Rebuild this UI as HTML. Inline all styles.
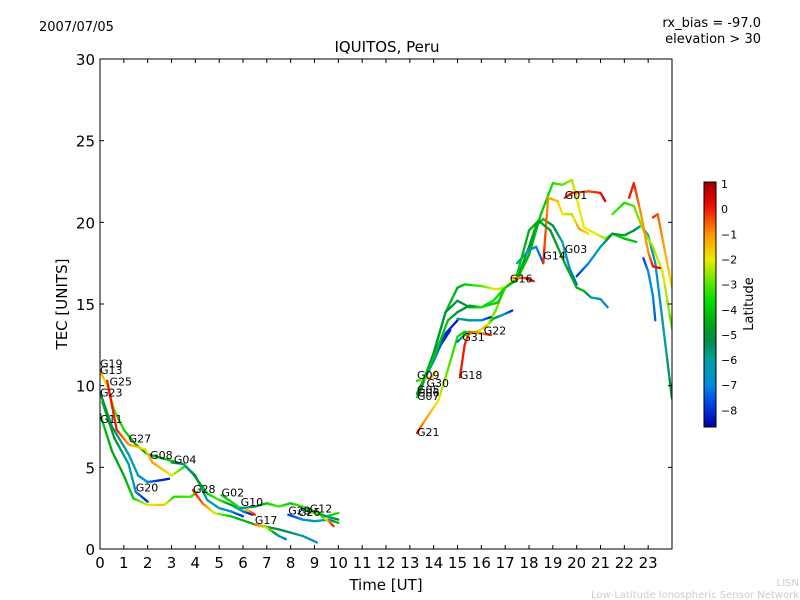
<!DOCTYPE html>
<html><head><meta charset="utf-8"><style>
body{margin:0;background:#fff;}
svg{display:block;font-family:"DejaVu Sans","Liberation Sans",sans-serif;}
</style></head><body>
<svg id="chart" width="800" height="600" viewBox="0 0 800 600">
<rect width="800" height="600" fill="#fff"/>
<text x="39" y="31" font-size="13">2007/07/05</text>
<text x="761" y="27" font-size="13" text-anchor="end">rx_bias = -97.0</text>
<text x="761" y="43" font-size="13" text-anchor="end">elevation &gt; 30</text>
<text x="387" y="52" font-size="15" text-anchor="middle">IQUITOS, Peru</text>
<text x="386" y="590" font-size="15" text-anchor="middle">Time [UT]</text>
<text x="67" y="304" font-size="15" text-anchor="middle" transform="rotate(-90 67 304)">TEC [UNITS]</text>
<text x="753" y="304" font-size="13" text-anchor="middle" transform="rotate(-90 753 304)">Latitude</text>
<text x="799" y="586" font-size="10" fill="#ccc" text-anchor="end">LISN</text>
<text x="799" y="598" font-size="10" fill="#ccc" text-anchor="end">Low-Latitude Ionospheric Sensor Network</text>
<defs><clipPath id="pc"><rect x="100" y="59" width="572" height="490"/></clipPath>
<linearGradient id="jet" x1="0" y1="1" x2="0" y2="0"></linearGradient></defs>
<g id="marks" clip-path="url(#pc)"></g>
<g id="labels"></g>
<rect x="100" y="59" width="572" height="490" fill="none" stroke="#000" stroke-width="1"/>
<g id="axes"></g>
<rect x="704" y="182" width="12" height="245" fill="url(#jet)" stroke="#000" stroke-width="1"/>
<g id="cbticks"></g>
</svg>
<script>
const xTicks=[0,1,2,3,4,5,6,7,8,9,10,11,12,13,14,15,16,17,18,19,20,21,22,23];
const yTicks=[0,5,10,15,20,25,30];
const cbTicks=[1,0,-1,-2,-3,-4,-5,-6,-7,-8];
const latMin=-8.66, latMax=1.08;
// each track: times, tec values, latitudes
const tracks=[
 {t:[0,0.3,0.6,1,1.5,2,2.5,3,3.5,4,4.5,5,5.5,6],v:[10.9,10,8.5,7.3,6.4,5.8,5.6,5.4,5.2,4.5,3.0,2.5,2.3,2.0],l:[-1,-2,-3,-3.5,-4.5,-5,-4.5,-4,-5.5,-5,-6,-6.5,-7,-8]},
 {t:[0.3,0.7,1.2,1.9,2.2,3.0,3.6],v:[10.3,7.3,6.4,6.1,5.3,4.5,5.1],l:[0,0,-1,-2,-1,-2,-3.5]},
 {t:[0,0.5,1,1.4,2,2.7,3.1,3.8,4.1],v:[8.3,6,4.5,3.1,2.7,2.7,3.2,3.2,3.5],l:[-4,-4.5,-4.5,-4,-2,-1.5,-3.5,-3,-3.5]},
 {t:[0,0.5,1.2,1.6,2.0,2.5,2.9],v:[9.6,7.5,5.8,4.5,4.1,4.2,4.3],l:[-5,-5.5,-6,-6.5,-7,-8,-8.3]},
 {t:[0.1,0.6,1.2,1.5,2.0],v:[9.0,6.8,5.2,3.5,2.9],l:[-4.5,-5,-6,-7,-8.3]},
 {t:[3.0,3.5,3.9,4.5,5,5.5,6,6.4],v:[5.3,5.2,4.6,3.4,3,2.7,2.3,2.1],l:[-4.5,-6,-5.5,-4,-3,-5,-7,-8.3]},
 {t:[3.9,4.3,4.8,5.5,6.5,7.5,8.5,9.1],v:[3.6,2.8,2.2,2.0,1.5,1.2,0.8,0.4],l:[0,-0.5,-2,-4,-4.5,-5,-6,-7]},
 {t:[6.5,7,7.5,7.8],v:[1.5,1.3,0.8,0.6],l:[-0.5,-2,-6,-7.5]},
 {t:[5.1,5.8,6.3,6.5],v:[3.3,2.6,2.3,2.1],l:[-4,-3.5,-1,0]},
 {t:[5.9,6.5,7,7.5,8,8.5,9,9.5,10],v:[2.5,2.6,2.8,2.6,2.8,2.6,2.3,2.0,2.2],l:[-6,-5.5,-4,-3,-4,-3,-4,-4,-3.5]},
 {t:[7.9,8.5,9,9.6,10],v:[2.1,1.8,1.7,1.8,1.6],l:[-8,-7,-6.5,-6,-4]},
 {t:[8.5,9,9.5,10],v:[2.4,2.2,2.0,1.8],l:[-8,-2,-6,-5]},
 {t:[9.3,9.6,9.8],v:[2.0,1.7,1.4],l:[-4,-1,0]},
 {t:[13.3,13.6,14.2,14.6,15.0,15.3,15.8,16.3,16.6,17.0,17.3,17.6],v:[7.1,7.8,9.1,11,13.0,13.3,13.2,13.8,14.6,16.0,16.4,16.8],l:[0,-1,-2,-3,-3.5,-4,-2.5,-2,-3,-2,-1.5,-3]},
 {t:[13.3,14,14.5,15,15.3,16,16.6,17,17.5,18,18.5,19,19.4,19.8,20.0,20.3,20.8,21.2,21.5,22,22.5],v:[9.3,12,14.5,16,16.2,16.1,15.9,16.0,16.5,18,20.5,22.4,22.3,22.6,21.5,19.7,19.3,19.0,19.3,19.0,18.8],l:[-3.5,-3.5,-4,-4.5,-4,-3,-2,-2.5,-3.5,-4.5,-4,-3.5,-3,-2.5,-2,-2,-2,-2.5,-3.5,-4,-4]},
 {t:[13.4,14,14.5,15,15.5,16,16.5,17,17.5,18,18.3,18.6,19,19.4,19.7,20.0],v:[9.5,12,14.5,15.2,14.8,14.8,15.2,16.0,16.5,18.5,19.8,20.2,19.8,18.8,17.2,16.2],l:[-5,-5,-5,-5.5,-4.5,-4,-3.5,-4,-4.5,-5,-4.5,-4,-5,-6,-7,-7.5]},
 {t:[17.5,18,18.3,18.6],v:[17.5,18.3,18.5,17.5],l:[-6,-6.5,-7,-7.5]},
 {t:[19.5,19.8,20.5,21,21.2],v:[21.5,21.8,21.9,21.8,21.3],l:[0,0,-0.5,0,0.5]},
 {t:[18.6,18.8,19.2,19.4,19.8,20.1,20.5],v:[17.5,21.5,21.3,20.5,20.5,19.6,19.3],l:[0,-1,-1.5,-2,-2.5,-1,-2]},
 {t:[17.5,18,18.4,18.9,19.5,20,20.3,20.6,21,21.3],v:[16.8,19.5,20.1,19.5,17.5,16.0,15.8,15.4,15.3,14.8],l:[-4,-4.5,-4.5,-5,-4.5,-4.5,-4,-6,-6.5,-7]},
 {t:[20.0,20.5,21,21.5,22,22.4,22.7,23.0,23.3,23.6,24],v:[16.7,17.5,18.5,19.3,19.2,19.5,19.8,19.2,17.5,14.0,9.2],l:[-8,-7,-6,-5,-4.5,-5,-6,-6,-6.5,-6.5,-5]},
 {t:[21.5,22,22.4,22.8,23.2,23.6,24],v:[20.5,21.2,21.0,19.5,18.5,17,13.5],l:[-3,-3.5,-3,-2.5,-2.5,-2,-3]},
 {t:[22.2,22.4,22.7,23.0,23.2,23.5],v:[21.5,22.4,20.5,18.2,17.3,17.2],l:[0,0,-1,-1,0,0.2]},
 {t:[23.2,23.4,23.6,24],v:[20.3,20.5,19,16],l:[0,-0.5,-1,-2]},
 {t:[22.8,23.0,23.2,23.3],v:[17.8,17,15.5,14],l:[-8,-7,-7,-7.5]},
 {t:[13.3,13.8,14.3,14.7],v:[9.5,11,12.5,13.4],l:[-7,-7.5,-8,-8.2]},
 {t:[13.4,14,14.5,15],v:[9.8,11.5,13.2,14.0],l:[-6.5,-7,-8,-8.3]},
 {t:[13.3,13.6,13.9,14.1],v:[10.3,10.4,10.5,10.9],l:[-4,-2,-1,-1.5]},
 {t:[15.0,15.3,15.8,16.2,16.5,17,17.3],v:[12.7,13.1,13.3,13.6,14.1,14.4,14.6],l:[-8,-4,-3,-1,-4,-7,-8]},
 {t:[15.1,15.3,15.5,16,16.4],v:[10.5,12.5,13.3,13.2,13.1],l:[0,0,-0.5,-1,0]},
 {t:[13.3,14,14.6,15,15.5,16,16.7,17],v:[9.5,11.7,14,14.5,14.9,14.8,15.1,16],l:[-4.5,-4,-4,-5,-5,-3.5,-4,-3.5]},
 {t:[15.0,15.5,16,16.4],v:[14.1,14.0,14.0,14.2],l:[-6,-5.5,-7,-8]},
 {t:[17.3,17.8,18.0,18.2],v:[16.6,16.6,16.5,16.4],l:[-1,-0.5,0.3,0]}
];
const satNames=["G19","G13","G25","G23","G11","G27","G08","G04","G20","G28","G02","G10","G17","G29","G26","G12","G09","G30","G05","G06","G07","G21","G18","G31","G22","G16","G14","G03","G01"];
const satT=[0,0,0.4,0,0,1.2,2.1,3.1,1.5,3.9,5.1,5.9,6.5,7.9,8.3,8.8,13.3,13.7,13.3,13.3,13.3,13.3,15.1,15.2,16.1,17.2,18.6,19.5,19.5];
const satV=[11.0,10.6,9.9,9.2,7.6,6.4,5.4,5.1,3.4,3.3,3.1,2.5,1.4,2.0,1.9,2.1,10.3,9.8,9.4,9.2,9.0,6.8,10.3,12.6,13.0,16.2,17.6,18.0,21.3];

const NS="http://www.w3.org/2000/svg";
const X=t=>100+t*572/24, Y=v=>549-v*490/30;
const CB=l=>427-(l-latMin)/(latMax-latMin)*245;
const cmap=[[1.08,[150,0,0]],[0.5,[215,0,0]],[0,[240,25,0]],[-1,[255,150,0]],[-2,[235,235,0]],[-3,[80,230,0]],[-3.7,[0,220,0]],[-4.5,[0,170,20]],[-5.2,[0,140,70]],[-6,[0,160,160]],[-7,[0,140,220]],[-7.8,[0,60,230]],[-8.66,[0,0,160]]];
function jet(l){l=Math.max(latMin,Math.min(latMax,l));
 for(let i=0;i<cmap.length-1;i++){const [a,ca]=cmap[i],[b,cb]=cmap[i+1];
  if(l<=a&&l>=b){const f=(a-l)/(a-b);const c=ca.map((v,k)=>Math.round(v+(cb[k]-v)*f));return `rgb(${c})`;}}
 return 'rgb(0,0,160)';}
const grad=document.getElementById('jet');
cmap.slice().reverse().forEach(([l,c])=>{const s=document.createElementNS(NS,'stop');
 s.setAttribute('offset',(l-latMin)/(latMax-latMin));s.setAttribute('stop-color',`rgb(${c})`);grad.appendChild(s);});
const marks=document.getElementById('marks');
tracks.forEach((tr,k)=>{
 const g=document.createElementNS(NS,'g');
 
 
 for(let i=0;i<tr.t.length-1;i++){
  const n=4;
  for(let j=0;j<n;j++){
   const a=j/n,b=(j+1)/n;
   const ln=document.createElementNS(NS,'line');
   
   
   ln.setAttribute('x1',X(tr.t[i]+(tr.t[i+1]-tr.t[i])*a));
   ln.setAttribute('y1',Y(tr.v[i]+(tr.v[i+1]-tr.v[i])*a));
   ln.setAttribute('x2',X(tr.t[i]+(tr.t[i+1]-tr.t[i])*b));
   ln.setAttribute('y2',Y(tr.v[i]+(tr.v[i+1]-tr.v[i])*b));
   ln.setAttribute('stroke',jet(tr.l[i]+(tr.l[i+1]-tr.l[i])*(a+b)/2));
   ln.setAttribute('stroke-width','2.3');
   ln.setAttribute('stroke-linecap','round');
   g.appendChild(ln);
  }
 }
 marks.appendChild(g);
});
const lab=document.getElementById('labels');
satNames.forEach((s,i)=>{
 const tx=document.createElementNS(NS,'text');
 
 
 tx.setAttribute('x',X(satT[i]));tx.setAttribute('y',Y(satV[i])-2);
 tx.setAttribute('font-size','11');tx.textContent=s;lab.appendChild(tx);
});
const ax=document.getElementById('axes');
function add(tag,attrs,name,text){const e=document.createElementNS(NS,tag);
 for(const k in attrs)e.setAttribute(k,attrs[k]);
 
 
 if(text!==undefined)e.textContent=text;ax.appendChild(e);return e;}
xTicks.forEach(t=>{
 add('line',{x1:X(t),x2:X(t),y1:549,y2:545,stroke:'#000'},'x-tick');
 add('line',{x1:X(t),x2:X(t),y1:59,y2:63,stroke:'#000'},'x-tick-top');
 add('text',{x:X(t),y:568,'font-size':15,'text-anchor':'middle'},'x-tick-label',String(t));
});
yTicks.forEach(v=>{
 add('line',{x1:100,x2:104,y1:Y(v),y2:Y(v),stroke:'#000'},'y-tick');
 add('line',{x1:672,x2:668,y1:Y(v),y2:Y(v),stroke:'#000'},'y-tick-right');
 add('text',{x:95,y:Y(v)+6,'font-size':15,'text-anchor':'end'},'y-tick-label',String(v));
});
cbTicks.forEach(l=>{
 add('line',{x1:716,x2:712,y1:CB(l),y2:CB(l),stroke:'#000'},'colorbar-tick');
 add('text',{x:721,y:CB(l)+4,'font-size':11},'colorbar-tick-label',l<0?'\u2212'+(-l):String(l));
});
</script>
</body></html>
